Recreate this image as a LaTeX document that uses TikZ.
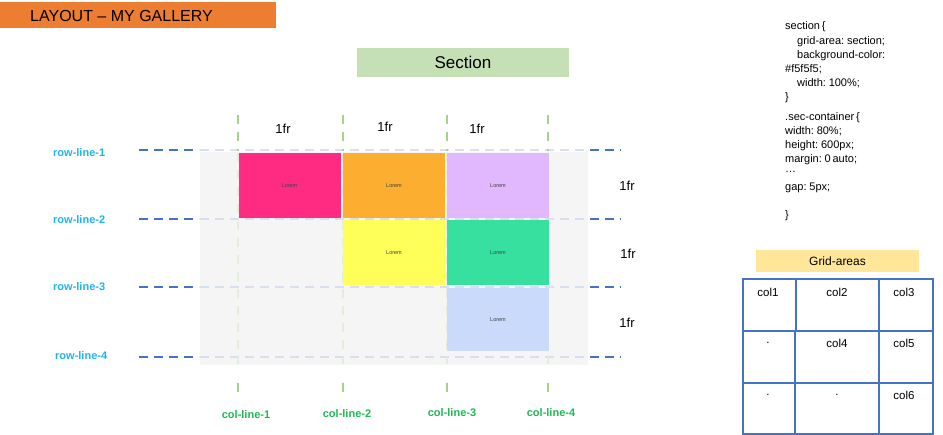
\documentclass[tikz,border=0pt]{standalone}
\usepackage{fontspec}
\setmainfont{Liberation Sans}
\newcommand\mycodefont{\fontsize{11}{12}\selectfont\spaceskip=1.8pt plus 0.5pt\relax}
\definecolor{banner}{HTML}{ED7D31}
\definecolor{secgreen}{HTML}{C5E0B4}
\definecolor{bggray}{HTML}{F5F5F5}
\definecolor{cpink}{HTML}{FF2A82}
\definecolor{corange}{HTML}{FBAE30}
\definecolor{cpurple}{HTML}{E1B7FD}
\definecolor{cyellow}{HTML}{FFFF5A}
\definecolor{cgreen}{HTML}{38E0A0}
\definecolor{cblue}{HTML}{C9DAFB}
\definecolor{rowblue}{HTML}{4472C4}
\definecolor{rowlight}{HTML}{D8DFEF}
\definecolor{colgreen}{HTML}{A9D18E}
\definecolor{collight}{HTML}{E3EEDA}
\definecolor{rowtxt}{HTML}{1EB4F0}
\definecolor{coltxt}{HTML}{1DB954}
\definecolor{gayellow}{HTML}{FFE699}
\tikzset{
  cell/.style={minimum width=102pt, minimum height=65pt, inner sep=0pt, font=\fontsize{5.5}{6}\selectfont, text=black!75},
  rowdash/.style={rowblue, line width=1.5pt, dash pattern=on 9pt off 6pt},
  rowdashlight/.style={rowlight, line width=1.5pt, dash pattern=on 9pt off 6pt},
  coldash/.style={colgreen, line width=1.5pt, dash pattern=on 9pt off 8pt},
  coldashlight/.style={collight, line width=1.5pt, dash pattern=on 9pt off 8pt},
  rowlbl/.style={anchor=west, inner sep=0pt, text=rowtxt, font=\bfseries\fontsize{11}{13}\selectfont},
  collbl/.style={inner sep=0pt, text=coltxt, font=\bfseries\fontsize{11}{13}\selectfont},
  frlbl/.style={inner sep=0pt, font=\fontsize{13}{15}\selectfont},
  code/.style={anchor=west, inner sep=0pt, font=\mycodefont},
  tbltxt/.style={inner sep=0pt, font=\fontsize{11.5}{13}\selectfont},
  tblline/.style={rowblue, line width=1.3pt}
}
\begin{document}
\begin{tikzpicture}[x=1pt,y=-1pt]
\useasboundingbox (0,0) rectangle (943,435);
% banner
\fill[banner] (0,2) rectangle (276,28);
\node[anchor=west, inner sep=0pt, font=\fontsize{16}{18}\selectfont] (title) at (30,15.5) {LAYOUT – MY GALLERY};
% section label
\node[fill=secgreen, minimum width=212pt, minimum height=29pt, inner sep=0pt, font=\fontsize{17}{19}\selectfont] (section) at (463,62.5) {Section};
% background
\fill[bggray] (200,152) rectangle (588,365);
% row lines
\foreach \y in {150,219,287,357}{
  \draw[rowdash] (139,\y) -- (199,\y);
  \draw[rowdashlight] (200,\y) -- (588,\y);
  \draw[rowdash] (590,\y) -- (621,\y);
}
% col lines
\foreach \x in {238,343,447,548}{
  \draw[coldash] (\x,115) -- (\x,151);
  \draw[coldashlight] (\x,153) -- (\x,364);
  \draw[coldash] (\x,383) -- (\x,394);
}
% cells
\node[cell, fill=cpink]   (c1) at (289.5,185.5) {Lorem};
\node[cell, fill=corange] (c2) at (394,185.5) {Lorem};
\node[cell, fill=cpurple] (c3) at (498,185.5) {Lorem};
\node[cell, fill=cyellow] (c4) at (394,253) {Lorem};
\node[cell, fill=cgreen]  (c5) at (498,253) {Lorem};
\node[cell, fill=cblue, minimum height=63pt] (c6) at (498,319.5) {Lorem};
% fr labels
\node[frlbl] (f1) at (283,129) {1fr};
\node[frlbl] (f2) at (385,127) {1fr};
\node[frlbl] (f3) at (477,129) {1fr};
\node[frlbl] (f4) at (627,186) {1fr};
\node[frlbl] (f5) at (628,254) {1fr};
\node[frlbl] (f6) at (627,323) {1fr};
% row labels
\node[rowlbl] (r1) at (53,153) {row-line-1};
\node[rowlbl] (r2) at (53,220) {row-line-2};
\node[rowlbl] (r3) at (53,287) {row-line-3};
\node[rowlbl] (r4) at (55,355.5) {row-line-4};
% col labels
\node[collbl] (l1) at (246,415) {col-line-1};
\node[collbl] (l2) at (347,414) {col-line-2};
\node[collbl] (l3) at (452,413) {col-line-3};
\node[collbl] (l4) at (551,413) {col-line-4};
% code
\node[code] (k1) at (785,27) {section \{};
\node[code] (k2) at (797,41.5) {grid-area: section;};
\node[code] (k3) at (797,55.5) {background-color:};
\node[code] (k4) at (785,69) {\#f5f5f5;};
\node[code] (k5) at (797,83.5) {width: 100\%;};
\node[code] (k6) at (785,97.5) {\}};
\node[code] (k7) at (785,117.5) {.sec-container \{};
\node[code] (k8) at (785,131.5) {width: 80\%;};
\node[code] (k9) at (785,146) {height: 600px;};
\node[code] (k10) at (785,160) {margin: 0 auto;};
\node[code] (k11) at (785,172) {…};
\node[code] (k12) at (785,188) {gap: 5px;};
\node[code] (k13) at (785,216) {\}};
% grid-areas
\node[fill=gayellow, minimum width=163pt, minimum height=22pt, inner sep=0pt, font=\fontsize{12}{14}\selectfont] (ga) at (837.5,261) {Grid-areas};
\draw[tblline] (743,279) rectangle (933,434);
\draw[tblline, line width=1.7pt] (743,331) -- (933,331);
\draw[tblline, line width=1.7pt] (743,383) -- (933,383);
\draw[tblline] (796,279) -- (796,331);
\draw[tblline] (795,331) -- (795,434);
\draw[tblline] (879,279) -- (879,434);
\node[tbltxt] (t1) at (768,292) {col1};
\node[tbltxt] (t2) at (837,292) {col2};
\node[tbltxt] (t3) at (904,292) {col3};
\node[tbltxt] (t4) at (768,343) {.};
\node[tbltxt] (t5) at (837,343) {col4};
\node[tbltxt] (t6) at (904,343) {col5};
\node[tbltxt] (t7) at (768,395) {.};
\node[tbltxt] (t8) at (837,395) {.};
\node[tbltxt] (t9) at (904,395) {col6};
\end{tikzpicture}
\end{document}
